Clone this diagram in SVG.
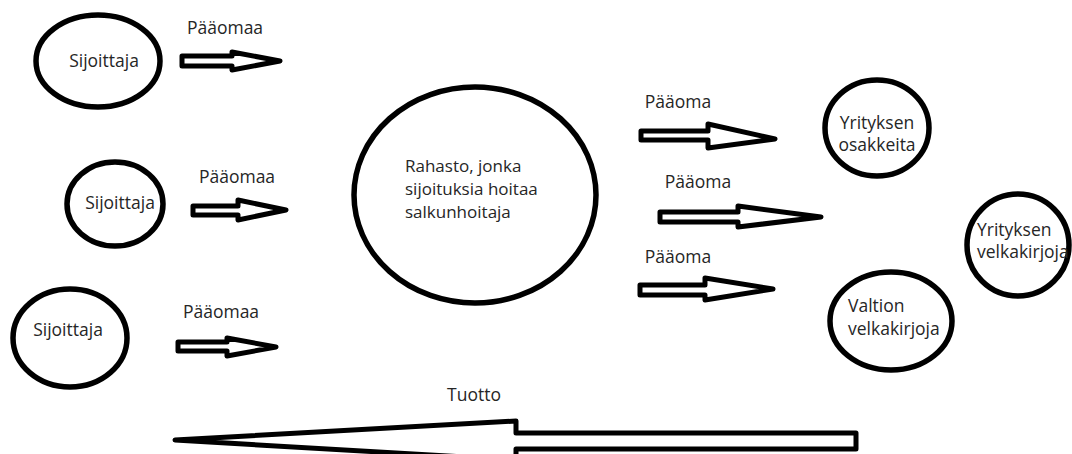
<svg xmlns="http://www.w3.org/2000/svg" width="1072" height="454" viewBox="0 0 1072 454">
  <style>
    .node { fill: #ffffff; stroke: #000000; stroke-width: 5.5; }
    .arrow { fill: #ffffff; stroke: #000000; stroke-width: 5; stroke-linejoin: round; }
    text { font-family: "Open Sans", "Liberation Sans", sans-serif; font-size: 17.5px; fill: #262626; }
    .mid { text-anchor: middle; }
    .fund-label { font-size: 17px; }
  </style>
  <rect width="1072" height="454" fill="#ffffff"/>

  <!-- investors -->
  <g id="investor1">
    <ellipse class="node" cx="98" cy="61" rx="62" ry="46"/>
    <text class="mid" x="104" y="67">Sijoittaja</text>
  </g>
  <g id="investor2">
    <ellipse class="node" cx="115" cy="204" rx="48" ry="42"/>
    <text class="mid" x="120" y="209">Sijoittaja</text>
  </g>
  <g id="investor3">
    <ellipse class="node" cx="70" cy="338" rx="57" ry="49"/>
    <text class="mid" x="68" y="336">Sijoittaja</text>
  </g>

  <!-- fund -->
  <g id="fund">
    <ellipse class="node" cx="475" cy="195" rx="121" ry="108" stroke-width="6"/>
    <text class="fund-label" x="405" y="172">Rahasto, jonka</text>
    <text class="fund-label" x="405" y="195">sijoituksia hoitaa</text>
    <text class="fund-label" x="405" y="218">salkunhoitaja</text>
  </g>

  <!-- investment targets -->
  <g id="shares">
    <ellipse class="node" cx="877" cy="128" rx="52" ry="48"/>
    <text class="mid" x="877" y="129">Yrityksen</text>
    <text class="mid" x="877" y="151">osakkeita</text>
  </g>
  <g id="corporate-bonds">
    <ellipse class="node" cx="1018" cy="245" rx="51" ry="51"/>
    <text x="977" y="236">Yrityksen</text>
    <text x="977" y="258">velkakirjoja</text>
  </g>
  <g id="government-bonds">
    <ellipse class="node" cx="891" cy="321" rx="61" ry="49"/>
    <text x="848" y="312">Valtion</text>
    <text x="848" y="335">velkakirjoja</text>
  </g>

  <!-- capital and return flows -->
  <g id="connectors">
    <polygon class="arrow" points="182,56 232,56 232,52 280,61 232,70 232,66 182,66"/>
    <polygon class="arrow" points="193,206 238,206 238,200 286,210 238,220 238,215 193,215"/>
    <polygon class="arrow" points="178,342 227,342 227,338 276,347 227,356 227,351 178,351"/>
    <polygon class="arrow" points="641,131 708,131 708,124 775,139 708,148 708,140 641,140"/>
    <polygon class="arrow" points="660,212 738,212 738,206 821,217 738,227 738,222 660,222"/>
    <polygon class="arrow" points="640,285 705,285 705,278 773,289 705,300 705,295 640,295"/>
    <polygon class="arrow" stroke-width="6" points="175,440 516,421 516,433 856,433 856,449 516,449 516,460"/>

    <text class="mid" x="225" y="34">Pääomaa</text>
    <text class="mid" x="237" y="183">Pääomaa</text>
    <text class="mid" x="221" y="318">Pääomaa</text>
    <text class="mid" x="678" y="108">Pääoma</text>
    <text class="mid" x="698" y="188">Pääoma</text>
    <text class="mid" x="678" y="263">Pääoma</text>
    <text class="mid" x="474" y="401">Tuotto</text>
  </g>
</svg>
